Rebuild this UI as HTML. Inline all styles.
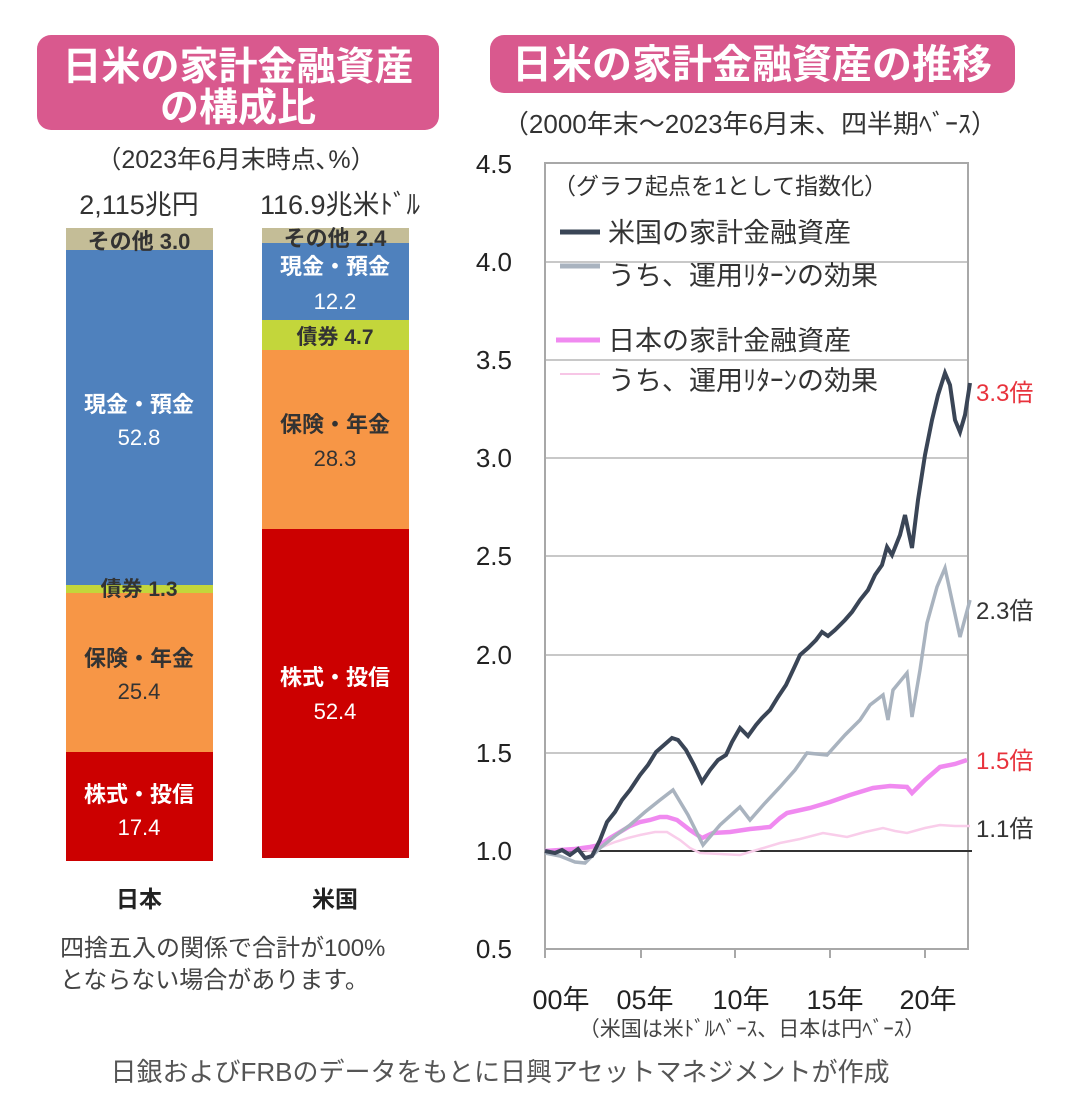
<!DOCTYPE html>
<html><head><meta charset="utf-8"><style>
html,body{margin:0;padding:0;background:#fff;}
svg{display:block;font-family:"Liberation Sans","Noto Sans CJK JP",sans-serif;}
</style></head><body>
<svg width="1082" height="1104" viewBox="0 0 1082 1104" xmlns="http://www.w3.org/2000/svg">
<!-- Left title -->
<rect x="37" y="35" width="402" height="95" rx="14" fill="#d9598e"/>
<text x="238" y="80" font-size="39" font-weight="bold" fill="#fff" text-anchor="middle">日米の家計金融資産</text>
<text x="238" y="121" font-size="39" font-weight="bold" fill="#fff" text-anchor="middle">の構成比</text>
<text x="236" y="168" font-size="25" fill="#333" text-anchor="middle">（2023年6月末時点､%）</text>
<text x="139" y="214" font-size="27" fill="#333" text-anchor="middle">2,115兆円</text>
<text x="340" y="214" font-size="27" fill="#333" text-anchor="middle">116.9兆米ﾄﾞﾙ</text>
<!-- Japan bar -->
<rect x="66" y="228" width="147" height="22" fill="#c4bd97"/>
<rect x="66" y="250" width="147" height="335" fill="#4f81bd"/>
<rect x="66" y="585" width="147" height="8" fill="#c3d63b"/>
<rect x="66" y="593" width="147" height="159" fill="#f79646"/>
<rect x="66" y="752" width="147" height="109" fill="#cc0000"/>
<text x="139" y="249" font-size="22" font-weight="bold" fill="#333" text-anchor="middle">その他 3.0</text>
<text x="139" y="412" font-size="22" font-weight="bold" fill="#fff" text-anchor="middle">現金・預金</text>
<text x="139" y="445" font-size="22" fill="#fff" text-anchor="middle">52.8</text>
<text x="139" y="596" font-size="21" font-weight="bold" fill="#333" text-anchor="middle">債券 1.3</text>
<text x="139" y="666" font-size="22" font-weight="bold" fill="#333" text-anchor="middle">保険・年金</text>
<text x="139" y="699" font-size="22" fill="#333" text-anchor="middle">25.4</text>
<text x="139" y="802" font-size="22" font-weight="bold" fill="#fff" text-anchor="middle">株式・投信</text>
<text x="139" y="835" font-size="22" fill="#fff" text-anchor="middle">17.4</text>
<!-- US bar -->
<rect x="262" y="228" width="147" height="15" fill="#c4bd97"/>
<rect x="262" y="243" width="147" height="77" fill="#4f81bd"/>
<rect x="262" y="320" width="147" height="30" fill="#c3d63b"/>
<rect x="262" y="350" width="147" height="179" fill="#f79646"/>
<rect x="262" y="529" width="147" height="329" fill="#cc0000"/>
<text x="335" y="246" font-size="22" font-weight="bold" fill="#333" text-anchor="middle">その他 2.4</text>
<text x="335" y="274" font-size="22" font-weight="bold" fill="#fff" text-anchor="middle">現金・預金</text>
<text x="335" y="309" font-size="22" fill="#fff" text-anchor="middle">12.2</text>
<text x="335" y="344" font-size="21" font-weight="bold" fill="#333" text-anchor="middle">債券 4.7</text>
<text x="335" y="432" font-size="22" font-weight="bold" fill="#333" text-anchor="middle">保険・年金</text>
<text x="335" y="466" font-size="22" fill="#333" text-anchor="middle">28.3</text>
<text x="335" y="685" font-size="22" font-weight="bold" fill="#fff" text-anchor="middle">株式・投信</text>
<text x="335" y="719" font-size="22" fill="#fff" text-anchor="middle">52.4</text>
<text x="139" y="907" font-size="23" font-weight="bold" fill="#222" text-anchor="middle">日本</text>
<text x="335" y="907" font-size="23" font-weight="bold" fill="#222" text-anchor="middle">米国</text>
<text x="60" y="956" font-size="24" fill="#444">四捨五入の関係で合計が100%</text>
<text x="60" y="988" font-size="24" fill="#444">とならない場合があります。</text>

<!-- Right title -->
<rect x="490" y="35" width="525" height="58" rx="14" fill="#d9598e"/>
<text x="752" y="78" font-size="40" font-weight="bold" fill="#fff" text-anchor="middle">日米の家計金融資産の推移</text>
<text x="750" y="133" font-size="26" fill="#333" text-anchor="middle">（2000年末～2023年6月末、四半期ﾍﾞｰｽ）</text>

<!-- plot frame and gridlines -->
<g stroke="#c8c8c8" stroke-width="2" fill="none">
<line x1="545" y1="262" x2="968" y2="262"/>
<line x1="545" y1="360" x2="968" y2="360"/>
<line x1="545" y1="458" x2="968" y2="458"/>
<line x1="545" y1="556" x2="968" y2="556"/>
<line x1="545" y1="655" x2="968" y2="655"/>
<line x1="545" y1="753" x2="968" y2="753"/>
</g>
<rect x="545" y="163" width="423" height="786" fill="none" stroke="#a8a8a8" stroke-width="2"/>
<g stroke="#a8a8a8" stroke-width="2">
<line x1="641" y1="949" x2="641" y2="958"/><line x1="735" y1="949" x2="735" y2="958"/>
<line x1="830" y1="949" x2="830" y2="958"/><line x1="925" y1="949" x2="925" y2="958"/>
<line x1="545" y1="949" x2="545" y2="958"/>
</g>
<line x1="545" y1="851" x2="972" y2="851" stroke="#333" stroke-width="2"/>
<g font-size="26" fill="#222" text-anchor="end">
<text x="512" y="173">4.5</text><text x="512" y="271">4.0</text><text x="512" y="369">3.5</text>
<text x="512" y="467">3.0</text><text x="512" y="565">2.5</text><text x="512" y="664">2.0</text>
<text x="512" y="762">1.5</text><text x="512" y="860">1.0</text><text x="512" y="958">0.5</text>
</g>
<g font-size="27" fill="#222" text-anchor="middle">
<text x="561" y="1009">00年</text><text x="645" y="1009">05年</text><text x="741" y="1009">10年</text>
<text x="835" y="1009">15年</text><text x="928" y="1009">20年</text>
</g>
<text x="752" y="1036" font-size="21" fill="#444" text-anchor="middle">（米国は米ﾄﾞﾙﾍﾞｰｽ、日本は円ﾍﾞｰｽ）</text>
<text x="500" y="1081" font-size="26" fill="#555" text-anchor="middle">日銀およびFRBのデータをもとに日興アセットマネジメントが作成</text>

<!-- legend -->
<text x="553" y="194" font-size="23" fill="#333">（グラフ起点を1として指数化）</text>
<line x1="560" y1="232" x2="600" y2="232" stroke="#3a4556" stroke-width="5"/>
<text x="608" y="242" font-size="27" fill="#333">米国の家計金融資産</text>
<line x1="560" y1="266" x2="600" y2="266" stroke="#a9b3bf" stroke-width="5"/>
<text x="608" y="285" font-size="27" fill="#333">うち、運用ﾘﾀｰﾝの効果</text>
<line x1="556" y1="340" x2="600" y2="340" stroke="#f08af0" stroke-width="5"/>
<text x="608" y="350" font-size="27" fill="#333">日本の家計金融資産</text>
<line x1="560" y1="374" x2="600" y2="374" stroke="#f7c6e6" stroke-width="2"/>
<text x="608" y="390" font-size="27" fill="#333">うち、運用ﾘﾀｰﾝの効果</text>

<!-- series -->
<polyline fill="none" stroke="#f9cdea" stroke-width="2.5" points="545,852 560,850 575,849 590,851 600,848 615,842 628,838 640,835 655,832 667,832 680,840 690,848 700,853 720,854 740,855 760,849 780,843 800,839 823,833 835,835 847,837 865,832 883,828 895,831 907,833 925,828 940,825 955,826 970,826"/>
<polyline fill="none" stroke="#f08af0" stroke-width="4.5" points="545,851 560,850 575,849 590,847 600,845 610,838 620,832 630,826 640,822 650,820 660,817 667,817 677,820 690,830 702,838 713,833 730,832 750,829 770,827 780,818 787,813 810,808 830,802 850,795 873,788 890,786 907,787 912,793 925,780 940,767 955,764 967,760"/>
<polyline fill="none" stroke="#a9b3bf" stroke-width="3.5" points="545,853 560,856 575,862 585,863 600,848 615,836 630,825 645,812 660,800 673,790 688,815 703,845 720,825 740,807 750,820 765,803 780,787 795,770 807,753 827,755 845,735 860,720 870,705 883,695 888,720 893,690 907,673 912,717 920,670 927,623 937,587 945,568 953,605 960,637 970,600"/>
<polyline fill="none" stroke="#3a4556" stroke-width="4" points="545,851 555,853 562,850 570,855 578,849 585,858 592,856 600,840 607,822 615,812 622,800 630,790 640,775 648,765 656,752 664,745 672,738 678,740 686,750 694,765 702,782 710,770 718,760 726,755 732,742 740,728 748,736 756,725 762,718 770,710 778,697 786,685 794,668 800,655 808,648 816,640 822,632 828,636 835,630 845,620 852,612 860,600 868,590 875,575 882,565 887,547 892,555 900,535 905,515 912,548 918,500 925,455 932,420 938,395 945,373 950,385 955,420 960,432 965,415 970,383"/>
<g font-size="24">
<text x="976" y="401" fill="#e8323c">3.3倍</text>
<text x="976" y="619" fill="#333">2.3倍</text>
<text x="976" y="769" fill="#e8323c">1.5倍</text>
<text x="976" y="837" fill="#333">1.1倍</text>
</g>
</svg>
</body></html>
